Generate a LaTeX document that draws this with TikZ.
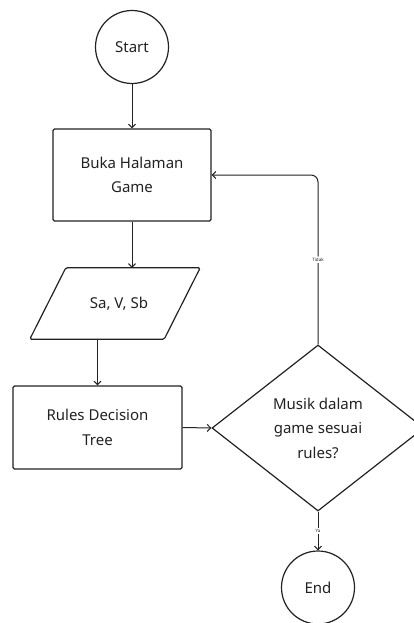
\documentclass[tikz,border=0pt]{standalone}
\usepackage{fontspec}
\setmainfont{Noto Sans}
\usetikzlibrary{shapes.geometric,arrows.meta}
\definecolor{ink}{HTML}{222222}
\begin{document}
\begin{tikzpicture}[x=1pt,y=-1pt,
  every node/.style={text=ink,font=\fontsize{15}{24.5}\selectfont,align=center,inner sep=0pt},
  shape line/.style={draw=ink,line width=1.2pt},
  term/.style={shape line,circle,minimum size=73pt},
  proc/.style={shape line,rectangle,rounded corners=1.5pt},
  io/.style={rectangle,minimum width=170pt,minimum height=71pt},
  decide/.style={shape line,diamond,minimum width=212pt,minimum height=166pt},
  flow/.style={draw=ink,line width=1pt,-{Straight Barb[length=3.5pt,width=7pt]}},
  tag/.style={fill=white,font=\fontsize{4.5}{5}\selectfont,inner sep=1.5pt}]
\useasboundingbox (0,0) rectangle (414,623);

\node[term] (start) at (132,47) {Start};
\node[proc,minimum width=158pt,minimum height=92pt] (buka) at (132,175) {Buka Halaman\\Game};
\node[io] (input) at (115,303.5) {\hspace*{8pt}Sa, V, Sb};
% slanted outline of the input/output box
\draw[shape line,rounded corners=1.5pt]
  (input.south west) -- ([xshift=-36pt]input.south east) -- (input.north east)
  -- ([xshift=36pt]input.north west) -- cycle;
\node[proc,minimum width=169pt,minimum height=83pt] (rules) at (97.5,427.5) {Rules Decision\\Tree};
\node[decide] (cek) at (318,428) {Musik dalam\\game sesuai\\rules?};
\node[term] (end) at (318,587.5) {End};

\draw[flow] (start) -- (buka);
\draw[flow] (buka.south) -- (buka.south |- input.north);
\draw[flow] (input.south -| rules.north) -- (rules.north);
\draw[flow] (rules.east) -- (cek.west);
\draw[flow,rounded corners=7pt] (cek.north) -- node[tag] (tidak) {Tidak} (cek.north |- buka.east) -- (buka.east);
\draw[flow] (cek.south) -- node[tag] (ya) {Ya} (end.north);
\end{tikzpicture}
\end{document}
